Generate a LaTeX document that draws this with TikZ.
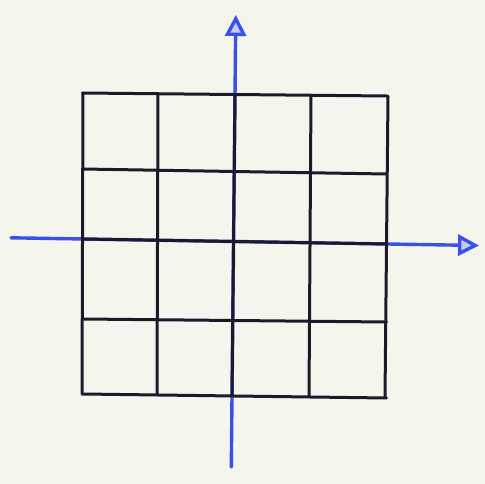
\documentclass[tikz,border=0pt]{standalone}
\usetikzlibrary{arrows.meta,calc}
\definecolor{paper}{HTML}{F4F6EE}
\definecolor{ink}{HTML}{1C1A28}
\definecolor{axisblue}{HTML}{3A50E6}
\begin{document}
\begin{tikzpicture}[x=1pt,y=-1pt,
  gridline/.style={draw=ink,line width=3pt,line cap=round},
  axisline/.style={draw=axisblue,line width=3.4pt,line cap=round,
    -{Triangle[open,width=21pt,length=21pt,line width=3.4pt,fill=axisblue!30]}}]
\fill[paper] (0,0) rectangle (485,484);
\useasboundingbox (0,0) rectangle (485,484);
% axes (drawn first, the grid lies over them)
\coordinate (vs) at (231.3,467);
\coordinate (ve) at (235.8,15);
\coordinate (hs) at (11,237.8);
\coordinate (he) at (479,245.5);
\draw[axisline] (vs) -- (ve);
\draw[axisline] (hs) -- (he);
% grid: columns (top x / bottom x), rows (left y / right y)
\foreach \xt/\xb [count=\k] in {83/82,158/157,235/232,311/309,388/385}{
  \coordinate (ct\k) at (\xt,93+\k*0.75-0.75);
  \coordinate (cb\k) at (\xb,394+\k*0.9-0.9);
  \draw[gridline] (ct\k) -- (cb\k);
}
\foreach \yl/\yr [count=\k] in {93/96,169/174,239/244,319/322,394/398}{
  \coordinate (rl\k) at (82.5,\yl);
  \coordinate (rr\k) at (386.5,\yr);
  \draw[gridline] (rl\k) -- (rr\k);
}
\end{tikzpicture}
\end{document}
